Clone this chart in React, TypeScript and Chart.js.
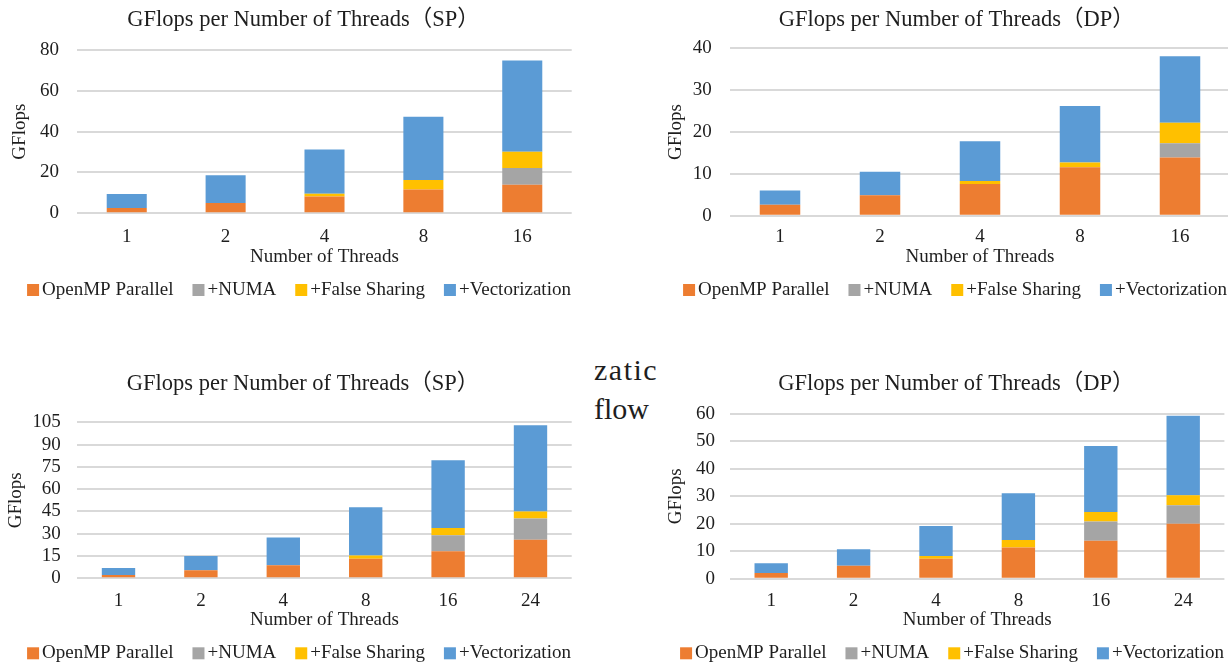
import React, { useEffect, useRef } from 'react';
import { Chart, registerables } from 'chart.js';

Chart.register(...registerables);

const FONT = "'Liberation Serif', 'Times New Roman', 'Noto Sans CJK SC', serif";
const TEXT = '#1e1e1e';
const GRID = '#d9d9d9';
const FS = 19;
const TITLE_FS = 22.5;

// ---------- data ----------
const seriesLabels = ['OpenMP Parallel', '+NUMA', '+False Sharing', '+Vectorization'];
const seriesColors = ['#ED7D31', '#A5A5A5', '#FFC000', '#5B9BD5'];

const threadsA = ['1', '2', '4', '8', '16'];
const threadsB = ['1', '2', '4', '8', '16', '24'];

// top-left: SP, up to 16 threads
const spA_openmp = [2.6, 5.1, 8.2, 11.6, 14.0];
const spA_numa = [0, 0, 0, 0, 8.2];
const spA_false = [0, 0, 1.4, 4.7, 8.0];
const spA_vec = [6.9, 13.5, 21.7, 31.0, 44.7];

// top-right: DP, up to 16 threads
const dpA_openmp = [2.6, 4.9, 7.6, 11.6, 13.9];
const dpA_numa = [0, 0, 0, 0, 3.4];
const dpA_false = [0, 0, 0.7, 1.1, 4.9];
const dpA_vec = [3.4, 5.6, 9.5, 13.5, 15.9];

// bottom-left: SP, up to 24 threads
const spB_openmp = [2.2, 5.4, 8.8, 13.2, 18.2, 26.0];
const spB_numa = [0, 0, 0, 0, 10.7, 14.2];
const spB_false = [0, 0, 0, 2.1, 5.0, 4.7];
const spB_vec = [4.8, 9.6, 18.6, 32.5, 45.5, 58.1];

// bottom-right: DP, up to 24 threads
const dpB_openmp = [2.1, 4.7, 7.3, 11.4, 13.8, 20.0];
const dpB_numa = [0, 0, 0, 0, 7.0, 6.8];
const dpB_false = [0, 0, 1.0, 2.7, 3.5, 3.6];
const dpB_vec = [3.5, 6.0, 10.9, 17.0, 24.0, 29.0];

const titleSP = 'GFlops per Number of Threads（SP）';
const titleDP = 'GFlops per Number of Threads（DP）';
const xTitle = 'Number of Threads';
const yTitle = 'GFlops';

// ---------- layout ----------
type Layout = {
  left: number; top: number; width: number; height: number;
  padLeft: number; areaLeft: number; areaRight: number;
  titleY: number; areaTop: number; areaBottom: number;
  yTickPad: number; yTitleX: number; xLabelY: number; xTitleY: number; legendY: number;
};

const L1: Layout = { left: 0, top: 0, width: 598, height: 310, padLeft: 35.3, areaLeft: 77.3, areaRight: 571.7,
  titleY: 20.5, areaTop: 50, areaBottom: 213.3, yTickPad: 18.3, yTitleX: 20.5, xLabelY: 237, xTitleY: 257, legendY: 290 };
const L2: Layout = { left: 653, top: 0, width: 604, height: 310, padLeft: 30.5, areaLeft: 77, areaRight: 577,
  titleY: 20.5, areaTop: 48.3, areaBottom: 215.7, yTickPad: 18.3, yTitleX: 23.5, xLabelY: 237.5, xTitleY: 257, legendY: 290 };
const L3: Layout = { left: 0, top: 340, width: 598, height: 330, padLeft: 34.3, areaLeft: 77.3, areaRight: 571.7,
  titleY: 44.5, areaTop: 82.3, areaBottom: 238.3, yTickPad: 16.6, yTitleX: 16.5, xLabelY: 261, xTitleY: 280.5, legendY: 313.3 };
const L4: Layout = { left: 653, top: 340, width: 598, height: 330, padLeft: 35.3, areaLeft: 77, areaRight: 571.4,
  titleY: 44.5, areaTop: 74, areaBottom: 238.7, yTickPad: 15, yTitleX: 23.5, xLabelY: 261.5, xTitleY: 280.5, legendY: 313.3 };

const legendPlugin = {
  id: 'customLegend',
  afterDraw(chart: any, _args: any, opts: any) {
    const ctx = chart.ctx;
    ctx.save();
    ctx.font = `${FS}px ${FONT}`;
    const items = chart.data.datasets.map((ds: any) => ({
      label: ds.label, color: ds.backgroundColor, w: ctx.measureText(ds.label).width,
    }));
    const box = 12, gap = 3, itemGap = 19;
    const total = items.reduce((a: number, it: any) => a + box + gap + it.w, 0) + itemGap * (items.length - 1);
    let x = chart.width / 2 - total / 2;
    const y = opts.y;
    ctx.textBaseline = 'middle';
    ctx.textAlign = 'left';
    for (const it of items) {
      ctx.fillStyle = it.color;
      ctx.fillRect(x, y - box / 2, box, box);
      x += box + gap;
      ctx.fillStyle = TEXT;
      ctx.fillText(it.label, x, y);
      x += it.w + itemGap;
    }
    ctx.restore();
  },
};

type Spec = {
  layout: Layout; title: string; labels: string[]; series: number[][]; yMax: number; yStep: number;
};

function BarChart({ spec }: { spec: Spec }) {
  const ref = useRef<HTMLCanvasElement | null>(null);
  useEffect(() => {
    if (!ref.current) return;
    const L = spec.layout;
    const LH = FS * 1.2;
    const LHT = TITLE_FS * 1.2;
    const xH = L.xTitleY - L.areaBottom + LH / 2;
    const font = { size: FS, family: FONT, weight: 'normal' as const };
    const chart = new Chart(ref.current, {
      type: 'bar',
      data: {
        labels: spec.labels,
        datasets: spec.series.map((d, i) => ({
          label: seriesLabels[i],
          data: d,
          backgroundColor: seriesColors[i],
          borderWidth: 0,
          barPercentage: 0.405,
          categoryPercentage: 1,
          yAxisID: 'y',
        })),
      },
      options: {
        responsive: false,
        animation: false,
        layout: {
          padding: {
            left: L.padLeft,
            right: L.width - L.areaRight,
            top: 0,
            bottom: L.height - L.areaBottom - xH,
          },
        },
        plugins: {
          legend: { display: false },
          tooltip: { enabled: false },
          title: {
            display: true,
            text: spec.title,
            color: TEXT,
            font: { size: TITLE_FS, family: FONT, weight: 'normal' },
            padding: { top: L.titleY - LHT / 2, bottom: L.areaTop - (L.titleY - LHT / 2) - LHT },
          },
          customLegend: { y: L.legendY },
        } as any,
        scales: {
          x: {
            stacked: true,
            grid: { display: false, drawTicks: false },
            border: { display: false },
            ticks: {
              color: TEXT, font, padding: L.xLabelY - L.areaBottom - LH / 2,
              maxRotation: 0, autoSkip: false,
            },
            title: { display: true, text: xTitle, color: TEXT, font, padding: { top: 0, bottom: 0 } },
            afterFit: (s: any) => { s.height = xH; },
          },
          y: {
            stacked: true,
            min: 0,
            max: spec.yMax,
            ticks: { stepSize: spec.yStep, color: TEXT, font, padding: L.yTickPad, autoSkip: false },
            grid: { color: GRID, lineWidth: 2, drawTicks: false },
            border: { display: false },
            title: {
              display: true, text: yTitle, color: TEXT, font,
              padding: { top: L.yTitleX - L.padLeft - LH / 2, bottom: 0 },
            },
            afterFit: (s: any) => { s.width = L.areaLeft - L.padLeft; },
          },
        },
      },
      plugins: [legendPlugin],
    });
    return () => chart.destroy();
  }, [spec]);
  const L = spec.layout;
  return (
    <canvas
      ref={ref}
      width={L.width}
      height={L.height}
      style={{ position: 'absolute', left: L.left, top: L.top, width: L.width, height: L.height }}
    />
  );
}

const specs: Spec[] = [
  { layout: L1, title: titleSP, labels: threadsA, series: [spA_openmp, spA_numa, spA_false, spA_vec], yMax: 80, yStep: 20 },
  { layout: L2, title: titleDP, labels: threadsA, series: [dpA_openmp, dpA_numa, dpA_false, dpA_vec], yMax: 40, yStep: 10 },
  { layout: L3, title: titleSP, labels: threadsB, series: [spB_openmp, spB_numa, spB_false, spB_vec], yMax: 105, yStep: 15 },
  { layout: L4, title: titleDP, labels: threadsB, series: [dpB_openmp, dpB_numa, dpB_false, dpB_vec], yMax: 60, yStep: 10 },
];

export default function App() {
  return (
    <div style={{ position: 'fixed', left: 0, top: 0, width: 1228, height: 662, overflow: 'hidden', background: '#fff' }}>
      <div style={{ position: 'absolute', left: 594, top: 350, width: 63, height: 80, overflow: 'hidden',
        fontFamily: FONT, fontSize: 30, lineHeight: '39px', color: TEXT, whiteSpace: 'nowrap' }}>
        <div style={{ letterSpacing: '1.5px' }}>zatic</div>
        <div>flow</div>
      </div>
      {specs.map((s, i) => <BarChart key={i} spec={s} />)}
    </div>
  );
}
